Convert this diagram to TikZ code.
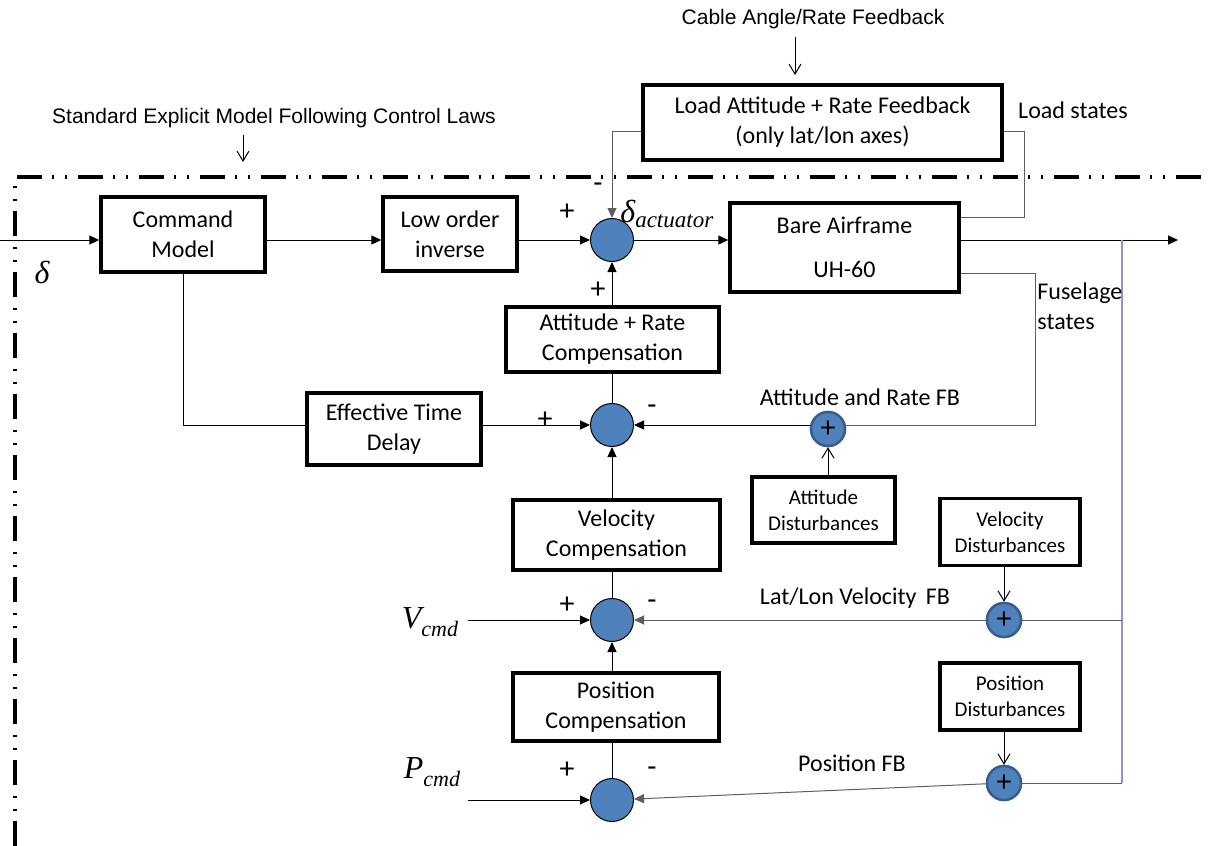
\documentclass[tikz,border=0pt]{standalone}
\usepackage{fontspec}
\setmainfont{Carlito}
\newfontfamily\arialfont{Liberation Sans}
\newfontfamily\timesfont{Liberation Serif}
\usepackage{tikz}
\usetikzlibrary{arrows.meta}
\definecolor{sumblue}{RGB}{79,129,189}
\definecolor{plusrim}{RGB}{56,93,138}
\definecolor{fbgray}{RGB}{95,95,95}
\definecolor{busviolet}{RGB}{160,140,200}

\begin{document}
\begin{tikzpicture}[x=0.5pt,y=-0.5pt,
  blk/.style={draw,line width=1.7pt,align=center,inner sep=0pt,font=\fontsize{12}{15}\selectfont},
  dist/.style={draw,line width=1.7pt,align=center,inner sep=0pt,minimum width=70pt,minimum height=33.5pt,font=\fontsize{10.5}{13}\selectfont},
  sumj/.style={circle,draw,line width=0.5pt,fill=sumblue,minimum size=21.5pt,inner sep=0pt},
  plusj/.style={circle,draw=plusrim,line width=1.2pt,fill=sumblue,minimum size=17pt,inner sep=0pt,font=\fontsize{15}{15}\selectfont},
  sig/.style={line width=0.5pt,-{Triangle[length=5pt,width=4.5pt]}},
  fb/.style={line width=0.5pt,draw=fbgray},
  opn/.style={line width=0.5pt,-{Straight Barb[length=5pt,width=6pt]}},
  lbl/.style={inner sep=0pt,font=\fontsize{12}{15}\selectfont},
  sgn/.style={inner sep=0pt,font=\fontsize{15}{15}\selectfont},
  mth/.style={inner sep=0pt,font=\timesfont\itshape\fontsize{16}{16}\selectfont},
  note/.style={inner sep=0pt,font=\arialfont\fontsize{10.5}{12}\selectfont}]
\useasboundingbox (0,0) rectangle (1211,846);

% control law boundary
\draw[line width=1.8pt,dash pattern=on 12.5pt off 5pt on 1.2pt off 5.3pt on 1.2pt off 5.3pt] (15,846) -- (15,177) -- (1211,177);

\node[note] (cablefb) at (813,19) {Cable Angle/Rate Feedback};
\node[note] (emflaws) at (274,118) {Standard Explicit Model Following Control Laws};
\coordinate (cabA) at (795,37);
\coordinate (cabB) at (795,75);
\coordinate (emfA) at (243,135);
\coordinate (emfB) at (243,162);
\draw[opn] (cabA) -- (cabB);
\draw[opn] (emfA) -- (emfB);

% blocks
\node[blk,minimum width=82pt,minimum height=37.5pt] (cmd) at (183,234.5) {Command\\Model};
\node[blk,minimum width=67pt,minimum height=37pt] (inv) at (450,234) {Low order\\inverse};
\node[blk,minimum width=114.5pt,minimum height=44.5pt] (bare) at (844.5,247.5) {Bare Airframe\\[7pt]UH-60};
\node[blk,minimum width=179.5pt,minimum height=37.5pt] (load) at (822.5,122.5) {Load Attitude + Rate Feedback\\(only lat/lon axes)};
\node[blk,minimum width=106.5pt,minimum height=32.5pt] (attc) at (612.5,339.5) {Attitude + Rate\\Compensation};
\node[blk,minimum width=87pt,minimum height=36pt] (etd) at (394,429) {Effective Time\\Delay};
\node[blk,minimum width=103.5pt,minimum height=35pt] (velc) at (616.5,535) {Velocity\\Compensation};
\node[blk,minimum width=103pt,minimum height=34pt] (posc) at (616,707) {Position\\Compensation};
\node[dist,minimum width=71.5pt,minimum height=33pt] (attd) at (823.5,510) {Attitude\\Disturbances};
\node[dist] (veld) at (1010,532) {Velocity\\Disturbances};
\node[dist] (posd) at (1010,696.5) {Position\\Disturbances};

% summing junctions
\node[sumj] (s1) at (612,240) {};
\node[sumj] (s2) at (612,425) {};
\node[sumj] (s3) at (612,620) {};
\node[sumj] (s4) at (612,800) {};
\node[plusj] (pa) at (828,429) {+};
\node[plusj] (pv) at (1004,620) {+};
\node[plusj] (pp) at (1004,783) {+};

% inputs
\coordinate (din) at (0,240);
\coordinate (vin) at (468,620);
\coordinate (pin) at (468,800);
\node[mth] (dlt) at (42,272) {δ};
\node[mth] (vcmd) at (430,622) {V\raisebox{-0.5ex}{\fontsize{11}{11}\selectfont cmd}};
\node[mth] (pcmd) at (432,772) {P\raisebox{-0.5ex}{\fontsize{11}{11}\selectfont cmd}};
\node[mth,anchor=base west] (dact) at (620,222) {δ\raisebox{-0.35ex}{\fontsize{11.5}{11.5}\selectfont actuator}};

% forward path
\draw[sig] (din) -- (cmd.west |- din);
\draw[sig] (cmd.east |- s1) -- (inv.west |- s1);
\draw[sig] (inv.east |- s1) -- (s1);
\draw[sig] (s1) -- (bare.west |- s1);
\draw (cmd.south) |- (etd.west |- s2);
\draw[sig] (etd.east |- s2) -- (s2);
\draw[sig] (attc.north -| s1) -- (s1);
\draw (s2) -- (attc.south -| s2);
\draw[sig] (velc.north -| s2) -- (s2);
\draw (s3) -- (velc.south -| s3);
\draw[sig] (posc.north -| s3) -- (s3);
\draw (s4) -- (posc.south -| s4);
\draw[sig] (vin) -- (s3);
\draw[sig] (pin) -- (s4);

% feedback paths
\coordinate (ldA) at (1024,217);
\coordinate (ldB) at (1024,131);
\coordinate (fsA) at (1035,273);
\coordinate (out) at (1178,240);
\coordinate (tap) at (1122,240);
\coordinate (tapP) at (1122,783);
\draw[fb] (bare.east |- ldA) -- (ldA) -- (ldB) -- (load.east |- ldB);
\draw[fb,sig] (load.west |- ldB) -| (s1);
\draw[fb] (bare.east |- fsA) -- (fsA) |- (pa.east |- s2);
\draw[sig] (pa.west |- s2) -- (s2);
\draw[sig] (bare.east |- out) -- (out);
\draw[draw=busviolet,line width=0.6pt] (tap) -- (tapP);
\draw[fb] (tapP |- pv) -- (pv);
\draw[fb] (tapP) -- (pp);
\draw[fb,sig] (pv) -- (s3);
\draw[fb,sig] (pp) -- (s4);
\draw[opn] (attd.north -| pa) -- (pa);
\draw[opn] (veld.south -| pv) -- (pv);
\draw[opn] (posd.south -| pp) -- (pp);

% redraw disturbance sums over the lines
\node[plusj] at (pa) {+};
\node[plusj] at (pv) {+};
\node[plusj] at (pp) {+};

% signs and signal labels
\node[sgn] (m1) at (598,188) {-};
\node[sgn] (p1a) at (567,212) {+};
\node[sgn] (p1b) at (598,290) {+};
\node[sgn] (p2) at (545,420) {+};
\node[sgn] (m2) at (652,410) {-};
\node[sgn] (p3) at (567,605) {+};
\node[sgn] (m3) at (652,605) {-};
\node[sgn] (p4) at (567,770) {+};
\node[sgn] (m4) at (652,772) {-};
\node[lbl] (attfb) at (860,397) {Attitude and Rate FB};
\node[lbl] (velfb) at (855,598) {Lat/Lon Velocity\, FB};
\node[lbl] (posfb) at (852,763) {Position FB};
\node[lbl] (ldst) at (1073,110) {Load states};
\node[lbl,align=left,anchor=north west] (fsst) at (1037,282) {Fuselage\\states};
\end{tikzpicture}
\end{document}
